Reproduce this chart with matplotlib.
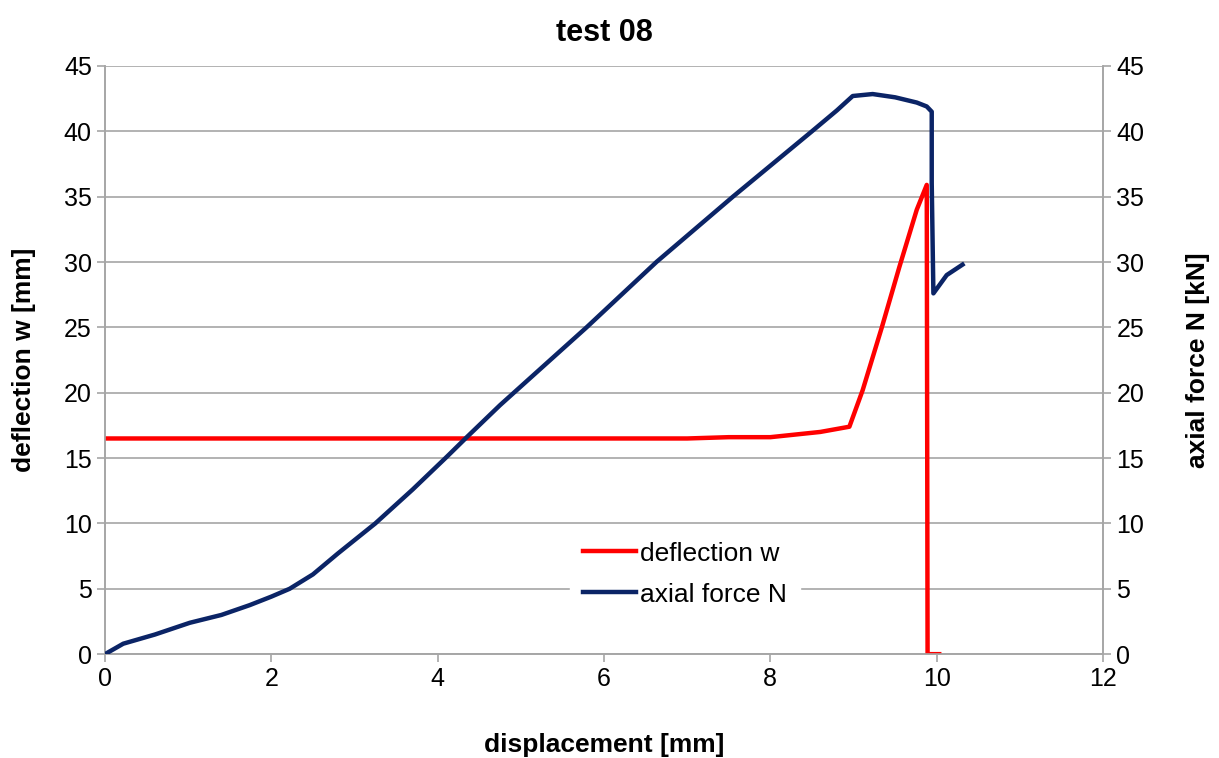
import matplotlib
matplotlib.use("Agg")
import matplotlib.pyplot as plt

plt.rcParams['font.family'] = ['Liberation Sans', 'DejaVu Sans']

# displacement [mm] vs deflection w [mm]
disp_w = [0.0, 1.0, 2.0, 3.0, 4.0, 5.0, 6.0, 7.0, 7.5, 8.0, 8.3, 8.6, 8.95,
          9.11, 9.34, 9.55, 9.76, 9.88, 9.89, 10.03]
defl_w = [16.5, 16.5, 16.5, 16.5, 16.5, 16.5, 16.5, 16.5, 16.6, 16.6, 16.8, 17.0, 17.4,
          20.2, 25.0, 29.6, 34.0, 35.9, 0.0, 0.0]

# displacement [mm] vs axial force N [kN]
disp_n = [0.0, 0.22, 0.6, 1.02, 1.4, 1.74, 2.0, 2.22, 2.5, 2.8, 3.25, 3.7, 4.11, 4.35,
          4.75, 5.79, 6.63, 7.55, 8.5, 8.8, 8.99, 9.23, 9.5, 9.76, 9.88, 9.94,
          9.94, 9.96, 10.12, 10.31]
force_n = [0.0, 0.8, 1.5, 2.4, 3.0, 3.75, 4.4, 5.0, 6.1, 7.7, 10.0, 12.6, 15.1, 16.6,
           19.05, 25.0, 30.0, 35.0, 40.0, 41.6, 42.7, 42.85, 42.6, 42.2, 41.9, 41.5,
           36.0, 27.6, 29.0, 29.8]

x_ticks = [0, 2, 4, 6, 8, 10, 12]
y_ticks = [0, 5, 10, 15, 20, 25, 30, 35, 40, 45]

red = '#ff0000'
navy = '#0b2466'
grid_c = '#a6a6a6'

fig = plt.figure(figsize=(12.19, 7.58), dpi=100)
ax = fig.add_axes([0.0861, 0.137, 0.8188, 0.776])
ax2 = ax.twinx()

l1, = ax.plot(disp_w, defl_w, color=red, lw=3.2, solid_joinstyle='round', label='deflection w', zorder=3)
l2, = ax2.plot(disp_n, force_n, color=navy, lw=3.2, solid_joinstyle='round', label='axial force N', zorder=3)

ax.set_xlim(0, 12)
ax.set_ylim(0, 45)
ax2.set_ylim(0, 45)
ax.set_xticks(x_ticks)
ax.set_yticks(y_ticks)
ax2.set_yticks(y_ticks)

ax.yaxis.grid(True, color=grid_c, lw=1.2)
ax.set_axisbelow(True)

for a in (ax, ax2):
    for s in a.spines.values():
        s.set_color(grid_c)
        s.set_linewidth(1.2)
    a.spines['top'].set_visible(False)
    a.tick_params(colors='black', labelsize=18, length=6, color=grid_c, width=1.2)

ax.set_title('test 08', fontsize=22, fontweight='bold', pad=18)
ax.set_xlabel('displacement [mm]', fontsize=19, fontweight='bold', labelpad=30)
ax.set_ylabel('deflection w [mm]', fontsize=19, fontweight='bold', labelpad=20)
ax2.set_ylabel('axial force N [kN]', fontsize=19, fontweight='bold', labelpad=30)

leg = ax2.legend(handles=[l1, l2], loc='center', bbox_to_anchor=(0.581, 0.136),
                 frameon=True, fontsize=19, handlelength=2.0, handletextpad=0.15,
                 borderpad=0.5, labelspacing=0.65, fancybox=False)
leg.get_frame().set_edgecolor('white')
leg.get_frame().set_facecolor('white')
leg.get_frame().set_alpha(1)

fig.savefig('out.png', dpi=100)
